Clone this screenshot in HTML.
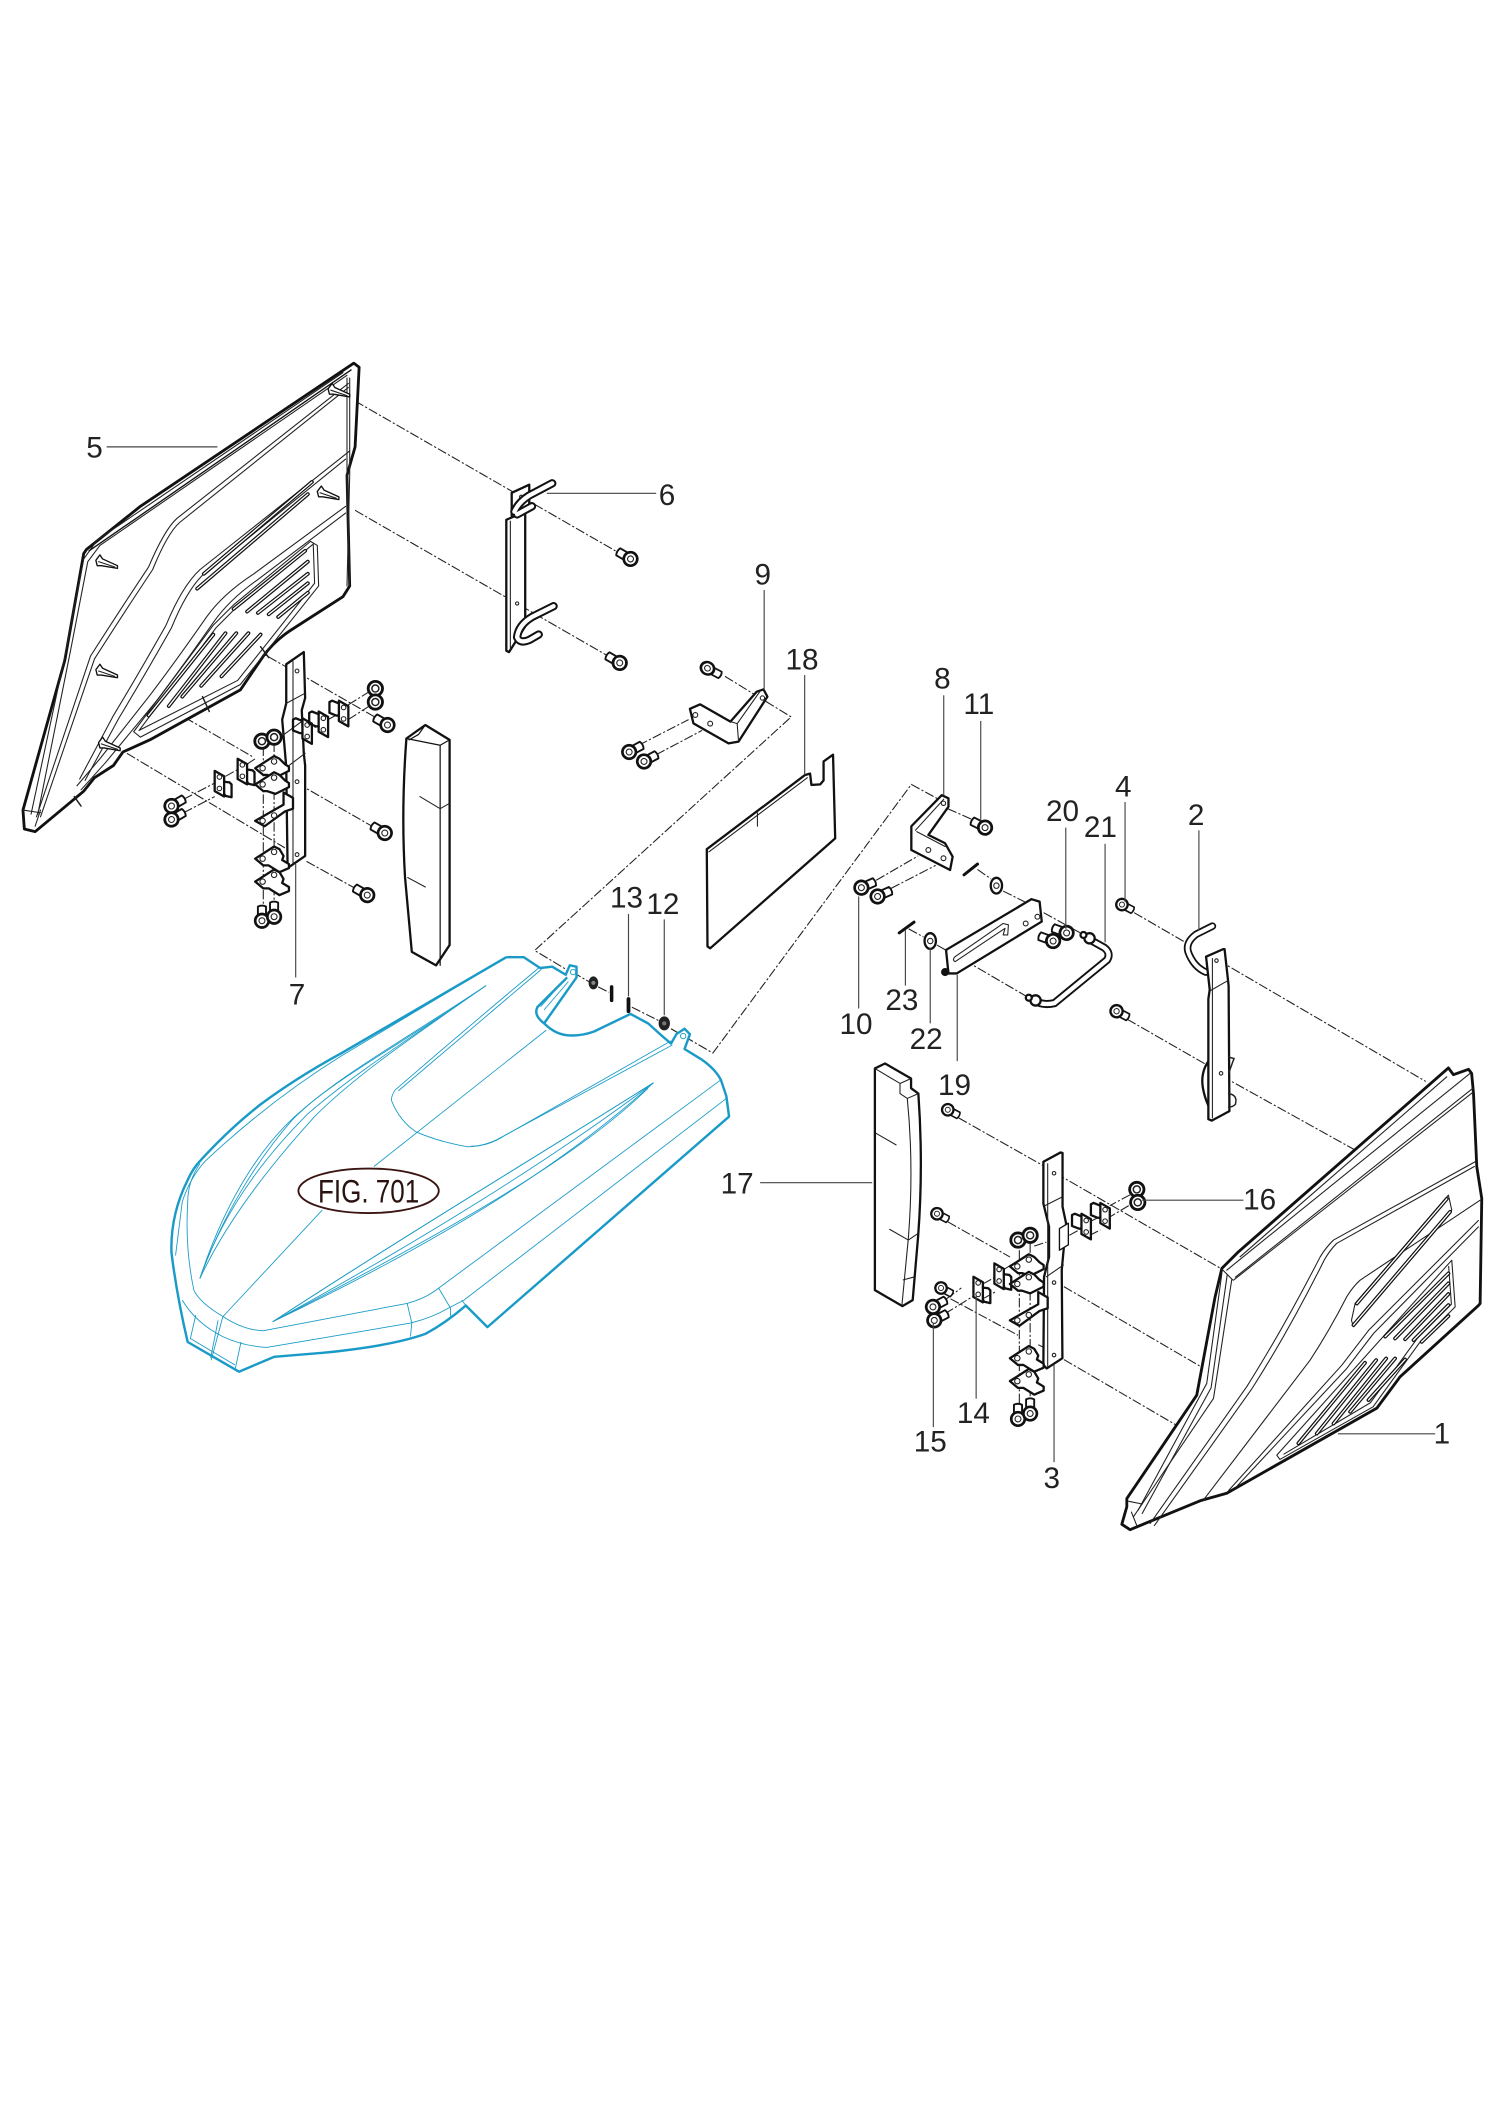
<!DOCTYPE html>
<html><head><meta charset="utf-8"><style>
html,body{margin:0;padding:0;background:#fff}
svg{display:block}
.k{fill:none;stroke:#111;stroke-width:1.7;stroke-linejoin:round;stroke-linecap:round}
.w{fill:#fff;stroke:#111;stroke-width:1.7;stroke-linejoin:round;stroke-linecap:round}
.t{fill:none;stroke:#222;stroke-width:.8;stroke-linejoin:round;stroke-linecap:round}
.m{fill:none;stroke:#222;stroke-width:1.1;stroke-linecap:round}
.d{fill:none;stroke:#222;stroke-width:.8;stroke-dasharray:7 1.6 1.6 1.6}
.L{fill:none;stroke:#444;stroke-width:.85}
.h{fill:none;stroke:#1a9bc7;stroke-width:1.8;stroke-linejoin:round}
.ht{fill:none;stroke:#1a9bc7;stroke-width:.65;stroke-linejoin:round}
text{font-family:"Liberation Sans",sans-serif;font-size:22px;fill:#222;text-anchor:middle}
</style></head><body>
<svg xmlns="http://www.w3.org/2000/svg" width="1500" height="2121" viewBox="0 0 1111 1571">
<defs>
<g id="b"><path class="w" style="stroke-width:1.4" d="M0,-3H10.5Q12,0 10.5,3H0Z"/><circle class="w" r="5" style="stroke-width:2"/><circle class="t" r="2.2"/></g>
<g id="n"><circle class="w" r="5.3" style="stroke-width:2.1"/><circle class="m" r="2.6"/></g>
<g id="tab"><path class="w" d="M0,0L7,4V19L0,15Z"/><circle class="t" cx="3.5" cy="4.5" r="1.7"/><circle class="t" cx="3.5" cy="13" r="1.7"/><path class="k" d="M7,8L11,8.5 12.5,10V19.5L8,18.5 7,17"/></g>
<g id="tabm"><path class="w" d="M0,0L7,4V19L0,15Z"/><circle class="t" cx="3.5" cy="5" r="1.7"/><circle class="t" cx="3.5" cy="13.5" r="1.7"/><path class="k" d="M0,2L-5,0 -7,1V9L-2,11 0,11"/></g>
<g id="fl"><path class="w" d="M0,0L14,-9 18,-7 22,-3 25,-1 25,2 15,7 9,5 6,5Z"/><circle class="t" cx="5.5" cy="0" r="2"/><circle class="t" cx="14" cy="-5" r="2"/></g>
<g id="fl2"><path class="w" d="M0,0L14,-9 18,-7 21,-2 20,1 25,4 25,7 18,10 10,5 6,5Z"/><circle class="t" cx="5.5" cy="0" r="2"/><circle class="t" cx="14" cy="-5" r="2"/></g>
<g id="fL"><path class="w" d="M0,0L21,-12 21,-21 28,-17 28,-9 22,-7 7,4Z"/><circle class="t" cx="5.5" cy="0" r="2"/><circle class="t" cx="14" cy="-4" r="2"/></g>
<g id="dart"><path class="w" style="stroke-width:1" d="M-8,-2L-5,-6 -3,-3 8,2 8,4 -4,2 -7,2Z"/><path class="t" d="M-6,-1L6,3"/></g>
<g id="s5" fill="none" stroke-linecap="round">
<path d="M231,357L151,425"/><path d="M228,366L146,436"/>
<path d="M226,408L173,451M228,416L183,453M228,425L191,454M228,432L199,455M228,439L206,457"/>
<path d="M158,470L110,530M167,469L125,523M175,469L135,516M184,469L149,508M193,470L164,501"/>
</g>
<g id="s1" fill="none" stroke-linecap="round">
<path d="M1071.6,888L1005,965.5M1074,897.6L1002.5,981.5"/>
<path d="M1072.8,943.2L1026,990M1072.8,950.6L1033.3,991.4M1072.8,958.5L1040.7,992M1072.8,966.7L1047,992.6M1072.8,974.8L1053,993.9"/>
<path d="M1011,1009.4L961.7,1069M1019.3,1007.4L975.3,1061.8M1026.7,1006.2L987.7,1054.4M1033.3,1006.2L1000,1045.7M1040.7,1007L1013.6,1037"/>
</g>
</defs>
<rect width="1111" height="1571" fill="#fff"/>

<!-- dashed lines -->
<g class="d">
<path d="M263,297L461,411"/><path d="M263,378L454,488"/>
<path d="M86,422L212,494M220,498L281,533"/><path d="M86,502L188,561"/><path d="M94,558L211,628"/>
<path d="M220,580L279,614"/><path d="M227,638L265,659"/>
<path d="M136,592L159,580M136,602L159,590M167,575L176,570M183,566L189,562M215,548L222,544M233,539L236,537M243,533L252,528M258,522L274,512M258,533L275,522M215,560L224,555"/>
<path d="M195,553V675M203,550V669"/>
<path d="M473,552L510,533M486,559L520,541"/>
<path d="M537,501L586,531L396,704L421,719"/>
<path d="M424,720L436,727M443,731L451,735M468,746L488,756M497,762L528,780L675,581L697,593"/>
<path d="M702,599L720,607"/>
<path d="M649,652L680,634M660,658L693,641"/>
<path d="M724,644L734,651M743,660L759,668M773,676L802,692"/>
<path d="M673,688L684,694M694,700L701,704"/>
<path d="M714,711L762,739"/>
<path d="M840,676L878,698M835,755L896,790"/>
<path d="M902,711L1056,801"/><path d="M905,797L1004,852"/>
<path d="M710,828L772,863"/><path d="M782,869L905,940"/>
<path d="M702,905L748,931"/><path d="M788,953L889,1012"/>
<path d="M704,962L754,989M769,996L773,998"/><path d="M788,1007L872,1056"/>
<path d="M837,885L822,893M836,893L821,902M807,905L815,901M807,915L815,911M792,915L801,910"/>
<path d="M701,962L712,954M700,973L721,960M728,951L737,946M728,962L737,957M744,940L752,935M766,923L775,920"/>
<path d="M755,926V1043M763,921V1040"/>
</g>

<!-- Panel 5 -->
<path class="w" style="stroke-width:2.1" d="M262,269L266,272 263,331 257,352 259,434 254,442 215,467 Q203,475 195,486 L178,511 111,548 91,557 84,567 70,576 62,586 26,616 18,614 17,600 48,489 62,410 64,407 104,375Z"/>
<g class="t">
<path d="M257,278L74,404 65,416 52,483 28,603"/><path d="M254,276L72,400 62,414 48,486 23,603"/>
<path d="M258,284L131,384Q122,392 110,420Q90,450 67,486L27,605"/><path d="M258,287L133,387Q124,395 113,422Q93,452 70,488L30,605"/>
<path d="M259,334L148,422Q135,434 123,463Q105,495 84,530L59,577"/><path d="M256,340L150,426Q138,438 127,465Q109,497 88,532L63,578"/>
<path d="M256,375L188,425Q165,440 153,457Q130,490 111,515L74,562 57,582"/><path d="M256,380L190,430Q170,444 158,461Q135,494 116,519L78,565 60,585"/>
<path d="M230,401L173,448 158,463 99,542 104,546 178,507 197,483 236,434 235,404Z"/>
<path d="M232,403L175,450 160,465 103,541 176,504 195,480 233,432Z"/>
<path d="M257,280V352L259,434"/><path d="M259,280V352L257,434"/>
<path d="M30,600L26,612M17,600L30,602"/>
</g>
<use href="#s5" stroke="#111" stroke-width="2.8"/><use href="#s5" stroke="#fff" stroke-width="1"/>
<path class="k" style="stroke-width:1" d="M260,274L66,408"/>
<use href="#dart" x="79" y="417"/><use href="#dart" x="79" y="498"/><use href="#dart" x="81" y="552"/><use href="#dart" x="251" y="290"/><use href="#dart" x="243" y="366"/>
<path class="m" d="M193,479L199,487M150,516L155,527M55,590L60,597"/>

<!-- bracket 7 -->
<use href="#tab" x="159" y="571"/>
<use href="#tab" x="176" y="562"/>
<path class="w" d="M212,492L225,483 226,517 223.5,526 225,558 226,567 226,634 213,643 212,568 209,533 212,521Z"/>
<path class="t" d="M212,521L225,514M209,545L224,534M210,570L226,558M217,490V640"/>
<circle class="t" cx="220" cy="497" r="1.4"/><circle class="t" cx="220" cy="579" r="1.4"/><circle class="t" cx="220" cy="633" r="1.4"/>
<use href="#tabm" x="224" y="532"/><use href="#tabm" x="236" y="527"/><use href="#tabm" x="251" y="519"/>
<use href="#fl" x="189" y="569"/><use href="#fl" x="189" y="581"/><use href="#fL" x="189" y="608"/><use href="#fl2" x="189" y="636"/><use href="#fl2" x="189" y="653"/>
<use href="#n" x="194" y="549"/><use href="#n" x="203" y="546"/><use href="#n" x="278" y="510"/><use href="#n" x="278" y="520"/>
<use href="#b" transform="translate(194,682) rotate(-90)"/><use href="#b" transform="translate(203,679) rotate(-90)"/>
<use href="#b" transform="translate(127,597) rotate(-30)"/><use href="#b" transform="translate(127,607) rotate(-30)"/>
<use href="#b" transform="translate(287,537) rotate(210)"/><use href="#b" transform="translate(285,617) rotate(210)"/><use href="#b" transform="translate(272,663) rotate(210)"/>

<!-- foam left -->
<path class="w" d="M301,547L315,537 333,548V700L323,715 305,705 300,650 Q297,600 301,547Z"/>
<path class="k" style="stroke-width:.9" d="M301,547L326,552 333,548M326,552V715M315,537L310,544 303,548"/>
<path class="t" d="M311,590L326,599 333,595M302,650L315,657"/>

<!-- part 6 -->
<path class="w" d="M379,365L392,359V378L379,385Z"/>
<path class="w" d="M375,385L389,379V464L377,483 375,482Z"/>
<path class="t" d="M378,386V481"/>
<circle class="t" cx="383" cy="447" r="1.2"/><circle class="t" cx="386" cy="368" r="1.2"/>
<path fill="none" stroke="#111" stroke-width="6.2" stroke-linecap="round" stroke-linejoin="round" d="M409,358L392,367Q384,372 381,379M394,375L383,381"/>
<path fill="none" stroke="#fff" stroke-width="3.2" stroke-linecap="round" stroke-linejoin="round" d="M409,358L392,367Q384,372 381,379M394,375L383,381"/>
<path fill="none" stroke="#111" stroke-width="6.2" stroke-linecap="round" stroke-linejoin="round" d="M410,449L394,457Q384,463 383,472 385,477 392,474L399,470"/>
<path fill="none" stroke="#fff" stroke-width="3.2" stroke-linecap="round" stroke-linejoin="round" d="M410,449L394,457Q384,463 383,472 385,477 392,474L399,470"/>
<use href="#b" transform="translate(467,414) rotate(210)"/><use href="#b" transform="translate(459,491) rotate(210)"/>

<!-- part 9 -->
<path class="w" d="M511,525L518.6,521.7 541,534.5 560.5,512.3 565.5,510.6 568.4,516 547,549.3 539.6,550.6 513.6,535.8Z"/>
<path class="t" d="M541,534.5L546,536 563,512M546,536L547,549"/>
<circle class="t" cx="515" cy="529.6" r="1.8"/><circle class="t" cx="526" cy="536" r="1.8"/><circle class="t" cx="564.7" cy="517" r="1.6"/>
<use href="#b" transform="translate(466,557) rotate(-28)"/><use href="#b" transform="translate(477,564) rotate(-28)"/>
<use href="#b" transform="translate(524,495) rotate(28) scale(1,.9)"/>

<!-- plate 18 -->
<path class="w" d="M523.5,629L596.3,574 600,573 601,581.4 607.5,581 610,578V564L617,559 618.6,621 526,702.4 524,701Z"/>
<path class="t" d="M525,631L598,576M561,602V612"/>

<!-- hood -->
<path d="M375,709L388,709 400,717 409,716 419,722 422,715 427,716 427,724 403,758Q412,767 423,767 432,767 440,764L467,751 480,758 490,767 497,773 501,766 507,762 511,766 507,777 520,785 Q530,792 534,800 L538,812 540,827 361,983 345,967 Q330,980 315,988 Q290,997 239,1002 L203,1005 177,1016 139,994 Q131,960 127,928 Q126,900 139,874 Q143,865 149,859 Q170,836 193,818 Q220,798 253,780Z" fill="#fff"/>
<g class="ht">
<path d="M399,717Q345,762 292.6,807.4Q289,813 290.3,816 296,830 308,838.3 326,846 346.5,849.4 360,849 372,842L498,774"/>
<path d="M401,718Q347,764 295,808M349,849Q362,849 374,841L497,771"/>
<path d="M404.6,763L277,864M238.7,896.3L165,975.3 156.4,1007.5"/>
<path d="M360,730C300,770 245,800 216,830C190,860 165,900 148,947"/>
<path d="M360,730C310,765 265,795 233,827C205,858 170,900 148,947"/>
<path d="M360,730C300,772 255,795 224,822C200,842 170,880 148,947"/>
<path d="M360,730C305,768 260,797 228,825C203,850 168,890 148,947"/>
<path d="M375,709L253,782Q200,815 152,860Q141,872 135,890L130,930"/>
<path d="M148,862Q139,875 139,891Q137,925 143.6,955.6Q148,965 165,975Q180,985 194.7,985.7L301,965.5Q315,962 325,954L533.7,800"/>
<path d="M135,963Q145,980 165,990Q180,997 197.5,998L304,980Q320,976 332,969L343.6,963 538,813.6"/>
<path d="M145,974L141,991.4 174,1011M161.5,978L156,1006M178.5,994L174,1015M301.6,965.5L305,980 304,990M325,954.3L333.7,969V975M342,963L345,967"/>
<path d="M484,802C400,855 300,915 202,979"/>
<path d="M484,802C405,852 305,912 202,979"/>
<path d="M484,802C410,858 310,920 202,979"/>
<path d="M484,802C420,860 335,915 202,979"/>
<path d="M480,806C430,855 345,905 206,977"/>
<path d="M400.4,745.7L420,723.5M403,748L421,727"/>
</g>
<path class="h" d="M375,709L388,709 400,717 409,716 419,722 422,715 427,716 427,724 403,758 Q395,752 398,746 L420,724M403,758Q412,767 423,767 432,767 440,764L467,751 480,758 490,767 497,773 501,766 507,762 511,766 507,777 520,785 Q530,792 534,800 L538,812 540,827 361,983 345,967 Q330,980 315,988 Q290,997 239,1002 L203,1005 177,1016 139,994 Q131,960 127,928 Q126,900 139,874 Q143,865 149,859 Q170,836 193,818 Q220,798 253,780 L375,709"/>
<circle class="ht" cx="424.5" cy="720" r="2"/><circle class="ht" cx="506" cy="767.4" r="2"/>
<ellipse cx="273" cy="882" rx="52" ry="16.5" fill="#fff" stroke="#3a1512" stroke-width="1.4"/>
<text x="273" y="890.5" font-size="24" style="font-size:24px;fill:#2a1210" textLength="75" lengthAdjust="spacingAndGlyphs">FIG. 701</text>

<!-- small hardware in hood -->
<ellipse cx="439.5" cy="728" rx="3.6" ry="4.8" fill="#222"/><circle cx="439.5" cy="728" r="1.5" fill="#888"/>
<path d="M453,731V741" stroke="#111" stroke-width="2.6" stroke-linecap="round"/>
<path d="M465.5,740V749" stroke="#111" stroke-width="2.8" stroke-linecap="round"/>
<ellipse cx="492" cy="758" rx="4.2" ry="5.2" fill="#222"/><circle cx="492" cy="758" r="1.6" fill="#777"/>

<!-- part 8 -->
<path class="w" d="M675,612L697.5,589 702.5,591.3 702.5,597.5 687.6,618.4 700,624.6 705.6,634.5 703.7,644.4 675,629.6Z"/>
<path class="t" d="M678,615L699,592M679,616L700,627"/>
<circle class="t" cx="687.6" cy="629.6" r="1.8"/><circle class="t" cx="698.8" cy="635.7" r="1.8"/><circle class="t" cx="698.8" cy="595" r="1.6"/>
<use href="#b" transform="translate(638,657.5) rotate(-24)"/><use href="#b" transform="translate(650,664) rotate(-24)"/>
<use href="#b" transform="translate(729.6,613) rotate(207)"/>

<!-- pins and washers -->
<path d="M714,648L724,640M666,691L677,683" stroke="#111" stroke-width="2.2" stroke-linecap="round"/>
<ellipse class="w" cx="738" cy="656" rx="4.2" ry="5.8"/><circle class="t" cx="738" cy="656" r="2"/>
<ellipse class="w" cx="689" cy="697" rx="4.2" ry="5.8"/><circle class="t" cx="689" cy="697" r="2"/>

<!-- part 19 -->
<path class="w" d="M700.7,703.6L764,666 770,667.8 771.6,682.6 708.6,721 702.5,721Z"/>
<path class="t" d="M707.4,708.6L743,684 746.9,685 746.4,692.5 743,692.5 744.4,687.6 707.4,712.3Q705,711 707.4,708.6Z"/>
<circle class="t" cx="768.4" cy="679" r="1.8"/><circle class="t" cx="759.7" cy="684" r="1.8"/>
<circle cx="700" cy="720" r="3" fill="#111"/>
<use href="#b" transform="translate(790,691) rotate(200)"/><use href="#b" transform="translate(780,697) rotate(200)"/>

<!-- handle 21 -->
<path d="M766,741Q772,745 781,743L820,711Q823,706 818,702L809,697" fill="none" stroke="#111" stroke-width="6"/>
<path d="M766,741Q772,745 781,743L820,711Q823,706 818,702L809,697" fill="none" stroke="#fff" stroke-width="3.2"/>
<circle class="w" cx="767" cy="741" r="3.8"/><circle class="w" cx="762" cy="739" r="2.2"/><circle class="w" cx="807" cy="695" r="3.8"/><circle class="w" cx="802.5" cy="692.5" r="2.2"/>

<use href="#b" transform="translate(831,670) rotate(28) scale(.85)"/>
<use href="#b" transform="translate(827,749) rotate(28) scale(.9)"/>

<!-- part 2 -->
<path fill="none" stroke="#111" stroke-width="5.6" stroke-linecap="round" stroke-linejoin="round" d="M898,686L886,692Q878,698 880,705Q884,716 893,720"/>
<path fill="none" stroke="#fff" stroke-width="3" stroke-linecap="round" stroke-linejoin="round" d="M898,686L886,692Q878,698 880,705Q884,716 893,720"/>
<path class="w" d="M893.3,708.6L906,703 907,703 910,730 910.6,823 897.5,830 895,829 895,740 896,733Z"/>
<path class="t" d="M896,734L910,726M898,710V828"/>
<circle class="t" cx="901" cy="711.5" r="1.3"/><circle class="t" cx="904.4" cy="795" r="1.3"/>
<path class="k" d="M895,786Q889,795 891,806 892,812 895,819"/>
<path class="m" d="M910,795L914,784 910,783M910,810Q917,811 915,818 913,820 910,820"/>

<!-- foam 17 -->
<path class="w" d="M648,791.4L655.5,787.7 674.8,798.8V806L680.2,810 Q684,864 680,916 L676,963 668.4,967.4 648,955.6Z"/>
<path class="t" d="M648,791.4L666.6,802.5 674.8,798.8M666.6,802.5V810L672,813.6 680.2,810M672,813.6Q677,864 672.8,917L668,967M649,839.5L663.7,848M659,910.6L672.8,918.5 680,913.6M669,948L676.5,946"/>

<!-- bracket 3 -->
<use href="#tab" x="721" y="945.7"/><use href="#tab" x="736.5" y="935.8"/>
<path class="w" d="M772.8,860.5L785.6,853.6 787,854 787,893.8 789.6,906 786.4,940.8 786.9,1006 775.3,1013.6 772.8,1011 773.3,945.7 777,931 777,908.7 772.8,891.4Z"/>
<path class="t" d="M774,893L787,886.4M775,945.7L787.6,937M776,862V1012"/>
<circle class="t" cx="780.7" cy="869" r="1.3"/><circle class="t" cx="780.7" cy="950" r="1.3"/><circle class="t" cx="780.7" cy="1003.7" r="1.3"/>
<path class="w" style="stroke-width:1" d="M784.7,910L791.3,906V922L784.7,926Z"/>
<use href="#tabm" x="801" y="899"/><use href="#tabm" x="815" y="891"/>
<use href="#fl" x="748" y="938"/><use href="#fl" x="748" y="951"/><use href="#fL" x="748" y="978"/><use href="#fl2" x="748" y="1006"/><use href="#fl2" x="748" y="1023"/>
<use href="#n" x="754" y="918.5"/><use href="#n" x="763" y="915"/><use href="#n" x="842" y="881"/><use href="#n" x="842.7" y="890.6"/>
<use href="#b" transform="translate(754,1051) rotate(-90)"/><use href="#b" transform="translate(763,1047) rotate(-90)"/>
<use href="#b" transform="translate(702,822) rotate(28) scale(.85)"/><use href="#b" transform="translate(694,899) rotate(28) scale(.85)"/><use href="#b" transform="translate(697,954) rotate(28) scale(.85)"/>
<use href="#b" transform="translate(691,968) rotate(-28)"/><use href="#b" transform="translate(692,978) rotate(-28)"/>

<!-- panel 1 -->
<path class="w" style="stroke-width:2.1" d="M1072.8,791L1076.5,796 1087.7,792 1090,795 1091.4,810 1093.8,864 1097.5,887.7 1096.3,965.5 1095,967 1037,1019.8 1019.8,1043 908.6,1106 888.9,1111.6 837,1133 830.9,1129 834.6,1116V1110L886.4,1033.4 900,960.5 905,939.5 917.3,927.2Z"/>
<g class="t">
<path d="M908.6,940.8L1088.9,795"/><path d="M918.5,930.9L1071.6,797.6"/><path d="M913.6,948.2L1091.4,808.7"/><path d="M915,946L1091,806"/>
<path d="M905,943.2L893.8,1024.7 843,1118.5"/><path d="M909,944L897,1028 846,1121"/><path d="M912.3,948L898.8,1035.8 839.5,1123.5"/>
<path d="M905,940L913,948"/><path d="M836,1112L846,1114M838,1120L842,1130"/>
<path d="M1092.6,860.5L987.7,918.5Q982,924 977.8,931Q950,985 923.5,1027L851.9,1128.4"/><path d="M1092,864L990,921Q985,926 981,933Q954,987 927,1029L855,1130"/>
<path d="M1096.3,889L1007.4,948.2Q1002,953 997.5,960.5Q985,985 970.4,1007.4L891.4,1111"/>
<path d="M1095,908.7L1017.3,987.7 997.5,1013.6 916,1101"/><path d="M1095,904L1014,985 994,1011 910,1104"/>
<path d="M1072.8,885.2L1075.3,896.3 1002.5,982.7 1001,978 1003.7,965.5Z"/>
<path d="M1075.3,933.4L1077.8,968 1051.9,993.9 1017,1042 948,1081 945.7,1077.8Z"/>
<path d="M1073,938L1075,966 1050,991 1015,1039 951,1077"/>
</g>
<use href="#s1" stroke="#111" stroke-width="2.8"/><use href="#s1" stroke="#fff" stroke-width="1"/>

<!-- leaders -->
<g class="L">
<path d="M79,331H161"/><path d="M405,365.4H486"/><path d="M566,437V511"/><path d="M596,500V574"/>
<path d="M465.5,677V738"/><path d="M492,681V752"/><path d="M219,640V724"/>
<path d="M699,515V589"/><path d="M726.4,534V608"/><path d="M636,664V747"/><path d="M670.6,689V730"/><path d="M689,702V758"/><path d="M709,722V786"/>
<path d="M789.4,613V688"/><path d="M818.5,625V698"/><path d="M833.3,594V668"/><path d="M888,615V689"/>
<path d="M563,876H646"/><path d="M846,889H921"/><path d="M723,960V1036"/><path d="M691.3,980V1057"/><path d="M780.7,1011V1083"/><path d="M991,1062H1063"/>
</g>

<!-- labels -->
<g transform="translate(1,0)">
<text x="69" y="339">5</text>
<text x="493" y="374">6</text>
<text x="564" y="433">9</text>
<text x="593" y="496">18</text>
<text x="219" y="744">7</text>
<text x="463" y="672">13</text>
<text x="490" y="677">12</text>
<text x="697" y="510">8</text>
<text x="724" y="529">11</text>
<text x="786" y="608">20</text>
<text x="814" y="620">21</text>
<text x="831" y="590">4</text>
<text x="885" y="611">2</text>
<text x="633" y="766">10</text>
<text x="667" y="748">23</text>
<text x="685" y="777">22</text>
<text x="706" y="811">19</text>
<text x="545" y="884">17</text>
<text x="932" y="896">16</text>
<text x="720" y="1054">14</text>
<text x="688" y="1075">15</text>
<text x="778" y="1102">3</text>
<text x="1067" y="1069">1</text>
</g>
</svg>
</body></html>
